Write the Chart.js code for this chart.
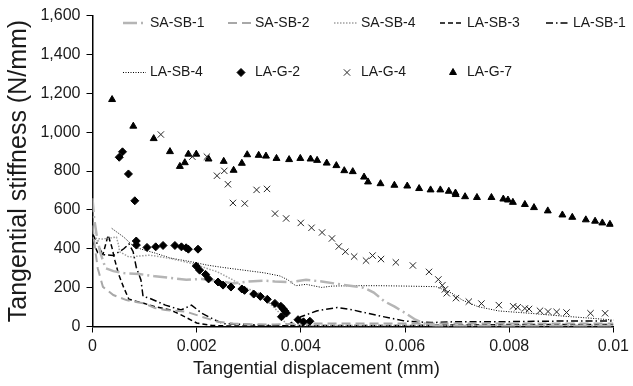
<!DOCTYPE html>
<html>
<head>
<meta charset="utf-8">
<script src="https://cdn.jsdelivr.net/npm/chart.js@4.4.1/dist/chart.umd.min.js"></script>
<style>
  html, body { margin: 0; padding: 0; background: #fff; }
</style>
</head>
<body>
<canvas id="graficoRigidez" width="633" height="386"></canvas>
<script>
/* ── DATA ──
 Values: x in mm, stiffness in N/mm. */
var xTicks = [0, 0.002, 0.004, 0.006, 0.008, 0.01];
var xTickLabels = ['0', '0.002', '0.004', '0.006', '0.008', '0.01'];
var yTicks = [0, 200, 400, 600, 800, 1000, 1200, 1400, 1600];

var seriesNames = ['SA-SB-1', 'SA-SB-2', 'SA-SB-4', 'LA-SB-3', 'LA-SB-1',
                   'LA-SB-4', 'LA-G-2', 'LA-G-4', 'LA-G-7'];

var saSb1X = [0, 0.00003, 0.00008, 0.00015, 0.00025, 0.0004, 0.0006, 0.0009, 0.0012, 0.0015, 0.0018, 0.0021, 0.0024, 0.0027, 0.003, 0.0033, 0.0035, 0.0038, 0.0041, 0.0044, 0.0048, 0.0052, 0.0054, 0.0056, 0.0058, 0.006, 0.0062, 0.0064, 0.0066, 0.007, 0.008, 0.009, 0.01];
var saSb1Y = [660, 560, 470, 380, 300, 285, 275, 270, 258, 250, 240, 245, 235, 222, 232, 236, 232, 228, 240, 232, 215, 200, 175, 130, 102, 70, 35, 12, 3, 3, 3, 3, 3];

var saSb2X = [0, 0.00005, 0.0001, 0.0002, 0.0004, 0.00065, 0.001, 0.0012, 0.0014, 0.0018, 0.0021, 0.0024, 0.0027, 0.003, 0.0035, 0.004, 0.005, 0.006, 0.007, 0.008, 0.009, 0.01];
var saSb2Y = [520, 400, 300, 204, 162, 136, 118, 95, 85, 76, 50, 25, 16, 12, 10, 15, 15, 15, 15, 15, 15, 15];

var saSb4X = [0, 0.0002, 0.00046, 0.0005, 0.00052, 0.0007, 0.0011, 0.0015, 0.0019, 0.0024, 0.0027, 0.0029, 0.0032, 0.0034, 0.0036, 0.0037, 0.004, 0.005, 0.006, 0.007, 0.008, 0.009, 0.01];
var saSb4Y = [455, 450, 460, 420, 385, 358, 367, 350, 325, 281, 239, 204, 170, 119, 68, 16, 5, 5, 5, 5, 5, 5, 5];

var laSb3X = [0, 0.0001, 0.0002, 0.0003, 0.00037, 0.00043, 0.0005, 0.0006, 0.0007, 0.001, 0.0012, 0.0015, 0.0017, 0.002, 0.0023, 0.0026, 0.003, 0.0035, 0.004, 0.005, 0.006, 0.007, 0.008, 0.009, 0.01];
var laSb3Y = [440, 380, 370, 470, 410, 340, 270, 200, 140, 118, 102, 85, 60, 18, 5, 3, 3, 3, 5, 5, 5, 8, 10, 10, 10];

var laSb1X = [0, 0.0001, 0.0002, 0.0004, 0.0006, 0.0007, 0.00078, 0.00084, 0.00093, 0.00097, 0.0011, 0.0014, 0.0017, 0.0019, 0.0021, 0.0023, 0.0025, 0.003, 0.0035, 0.0037, 0.004, 0.0043, 0.0047, 0.005, 0.0055, 0.006, 0.0065, 0.007, 0.008, 0.009, 0.01];
var laSb1Y = [480, 420, 370, 365, 400, 425, 385, 305, 240, 155, 145, 110, 85, 110, 68, 40, 15, 10, 5, 0, 50, 80, 98, 85, 55, 28, 20, 25, 25, 28, 28];

var laSb4X = [0.00037, 0.0006, 0.0008, 0.001, 0.0012, 0.0015, 0.0019, 0.0022, 0.0025, 0.0029, 0.0033, 0.0036, 0.00375, 0.0039, 0.0041, 0.0044, 0.0046, 0.005, 0.0055, 0.006, 0.0066, 0.0069, 0.0071, 0.0074, 0.0078, 0.0084, 0.009, 0.0096, 0.01];
var laSb4Y = [505, 460, 410, 393, 378, 352, 333, 316, 304, 290, 276, 260, 240, 210, 217, 201, 208, 210, 210, 208, 205, 171, 136, 102, 80, 68, 54, 42, 33];

var laG2X = [0.000513, 0.000576, 0.00069, 0.000812, 0.00084, 0.000842, 0.001046, 0.001213, 0.001354, 0.001582, 0.001707, 0.001797, 0.00184, 0.002025, 0.001992, 0.002057, 0.002171, 0.002228, 0.00241, 0.002506, 0.002658, 0.002867, 0.002918, 0.003095, 0.003222, 0.003356, 0.003502, 0.003616, 0.00366, 0.003692, 0.003722, 0.003627, 0.003945, 0.00405, 0.004173];
var laG2Y = [871, 899, 785, 647, 440, 419, 407, 410, 417, 417, 410, 405, 398, 398, 311, 290, 268, 245, 229, 213, 203, 193, 186, 167, 155, 140, 119, 104, 91, 80, 69, 50, 35, 24, 27];

var laG4X = [0.001312, 0.001916, 0.002196, 0.00239, 0.00253, 0.0026, 0.002696, 0.002922, 0.00315, 0.00335, 0.003504, 0.003717, 0.003998, 0.004205, 0.004407, 0.004597, 0.004728, 0.004854, 0.005023, 0.005251, 0.005376, 0.005538, 0.005823, 0.00615, 0.00646, 0.006639, 0.006715, 0.006765, 0.0068, 0.006977, 0.007224, 0.007466, 0.0078, 0.008076, 0.008162, 0.0083, 0.00838, 0.00859, 0.008745, 0.00891, 0.0091, 0.00956, 0.00984];
var laG4Y = [988, 874, 874, 776, 801, 732, 636, 633, 703, 708, 581, 556, 533, 508, 484, 453, 412, 385, 360, 339, 365, 347, 330, 314, 281, 242, 212, 191, 171, 146, 128, 118, 110, 104, 99, 93, 90, 81, 77, 75, 72, 68, 68];

var laG7X = [0.000376, 0.000783, 0.001175, 0.001487, 0.001677, 0.001772, 0.00184, 0.001992, 0.002228, 0.002519, 0.002709, 0.002867, 0.00297, 0.00319, 0.00333, 0.003532, 0.003774, 0.003989, 0.004186, 0.004312, 0.004496, 0.004681, 0.004833, 0.004996, 0.005213, 0.005289, 0.005529, 0.005795, 0.006042, 0.00627, 0.00649, 0.006677, 0.00684, 0.006968, 0.006973, 0.007152, 0.00738, 0.007658, 0.007886, 0.007975, 0.00807, 0.0083, 0.008475, 0.00874, 0.00902, 0.00921, 0.00947, 0.009648, 0.009787, 0.009933];
var laG7Y = [1168, 1031, 967, 900, 824, 843, 887, 887, 862, 850, 804, 840, 884, 881, 877, 865, 859, 865, 862, 855, 841, 828, 802, 797, 769, 744, 735, 727, 723, 710, 703, 703, 696, 687, 679, 668, 664, 664, 656, 651, 639, 628, 612, 595, 574, 562, 549, 542, 533, 526];

/* ── HELPER: puntos ──
 Joins an x array and a y array into the {x, y} list Chart.js wants. */
function puntos(xs, ys) {
    return xs.map(function (x, i) { return { x: x, y: ys[i] }; });
}

/* ── LEGEND PLUGIN ──
 The legend sits inside the plot on a fixed grid of 5 columns, 2 rows. */
var legendCols = [123, 228, 334, 440, 546];
var legendRows = [23, 72.5];

var leyendaRejilla = {
    id: 'leyendaRejilla',
    afterDraw: function (chart) {
        var ctx = chart.ctx;
        ctx.save();
        ctx.font = '14px "Liberation Sans", Arial, sans-serif';
        ctx.textBaseline = 'middle';
        chart.data.datasets.forEach(function (ds, i) {
            var x0 = legendCols[i % 5];
            var y0 = legendRows[Math.floor(i / 5)];
            ctx.save();
            if (ds.showLine) {
                /* Short line sample with the dataset's own dash */
                ctx.strokeStyle = ds.borderColor;
                ctx.lineWidth = ds.borderWidth;
                ctx.setLineDash(ds.borderDash || []);
                ctx.beginPath();
                ctx.moveTo(x0, y0);
                ctx.lineTo(x0 + 23, y0);
                ctx.stroke();
            } else {
                /* Single marker for the scatter series */
                ctx.fillStyle = ds.backgroundColor;
                ctx.strokeStyle = ds.borderColor;
                ctx.lineWidth = ds.borderWidth;
                Chart.helpers.drawPoint(ctx, {
                    pointStyle: ds.pointStyle,
                    radius: ds.pointRadius,
                    borderWidth: ds.borderWidth,
                    rotation: 0
                }, x0 + 13, y0);
            }
            ctx.restore();
            ctx.fillStyle = '#1a1a1a';
            ctx.fillText(ds.label, x0 + 27, y0);
        });
        ctx.restore();
    }
};

/* ── FUNCTION: lineaSerie / marcaSerie ──
 Build a dataset for a line series or a marker series. */
function lineaSerie(label, xs, ys, color, width, dash) {
    return {
        label: label,
        data: puntos(xs, ys),
        showLine: true,
        borderColor: color,
        backgroundColor: color,
        borderWidth: width,
        borderDash: dash,
        pointRadius: 0,
        tension: 0,
        order: 2
    };
}

function marcaSerie(label, xs, ys, style, radius, color, width) {
    return {
        label: label,
        data: puntos(xs, ys),
        showLine: false,
        pointStyle: style,
        pointRadius: radius,
        backgroundColor: color,
        borderColor: color,
        borderWidth: width,
        order: 1
    };
}

Chart.defaults.font.family = '"Liberation Sans", Arial, sans-serif';
Chart.defaults.color = '#1a1a1a';

new Chart(document.getElementById('graficoRigidez'), {
    type: 'scatter',
    data: {
        datasets: [
            lineaSerie(seriesNames[0], saSb1X, saSb1Y, '#b5b5b5', 2.5, [14, 4, 2, 4]),
            lineaSerie(seriesNames[1], saSb2X, saSb2Y, '#a8a8a8', 2, [9, 5]),
            lineaSerie(seriesNames[2], saSb4X, saSb4Y, '#a0a0a0', 1.5, [1.5, 1.5]),
            lineaSerie(seriesNames[3], laSb3X, laSb3Y, '#000000', 1.5, [5, 3]),
            lineaSerie(seriesNames[4], laSb1X, laSb1Y, '#000000', 1.5, [7, 3, 1.5, 3]),
            lineaSerie(seriesNames[5], laSb4X, laSb4Y, '#000000', 1, [1, 1.5]),
            marcaSerie(seriesNames[6], laG2X, laG2Y, 'rectRot', 4, '#000000', 1),
            marcaSerie(seriesNames[7], laG4X, laG4Y, 'crossRot', 4.5, '#262626', 1),
            marcaSerie(seriesNames[8], laG7X, laG7Y, 'triangle', 4, '#000000', 1)
        ]
    },
    options: {
        responsive: false,
        animation: false,
        events: [],
        /* No right padding: the last tick label reserves the right margin */
        layout: { padding: { top: 15, right: 0, left: 0, bottom: 0 } },
        plugins: {
            legend: { display: false },
            tooltip: { enabled: false },
            /* X axis title is centred on the whole figure, as in the reference */
            title: {
                display: true,
                position: 'bottom',
                text: 'Tangential displacement (mm)',
                color: '#1a1a1a',
                font: { size: 18.5, weight: 'normal' },
                padding: { top: 0, bottom: 5.9 }
            }
        },
        scales: {
            x: {
                type: 'linear',
                min: 0,
                max: 0.01,
                afterBuildTicks: function (s) { s.ticks = xTicks.map(function (v) { return { value: v }; }); },
                afterFit: function (s) { s.height = 31.4; },
                ticks: {
                    font: { size: 16 },
                    padding: 4,
                    maxRotation: 0,
                    callback: function (v) { return xTickLabels[xTicks.indexOf(v)]; }
                },
                grid: { display: true, drawOnChartArea: false, drawTicks: true, tickLength: 6, color: '#000' },
                border: { display: true, color: '#000', width: 1.5 }
            },
            y: {
                min: 0,
                max: 1600,
                afterBuildTicks: function (s) { s.ticks = yTicks.map(function (v) { return { value: v }; }); },
                afterFit: function (s) { s.width = 92.5; },
                ticks: {
                    font: { size: 16 },
                    padding: 6,
                    callback: function (v) { return v.toLocaleString('en-US'); }
                },
                grid: { display: true, drawOnChartArea: false, drawTicks: true, tickLength: 6, color: '#000' },
                border: { display: true, color: '#000', width: 1.5 },
                title: {
                    display: true,
                    text: 'Tangential stiffness (N/mm)',
                    font: { size: 25 },
                    padding: { top: 4, bottom: 0 }
                }
            }
        }
    },
    plugins: [leyendaRejilla]
});
</script>
</body>
</html>
